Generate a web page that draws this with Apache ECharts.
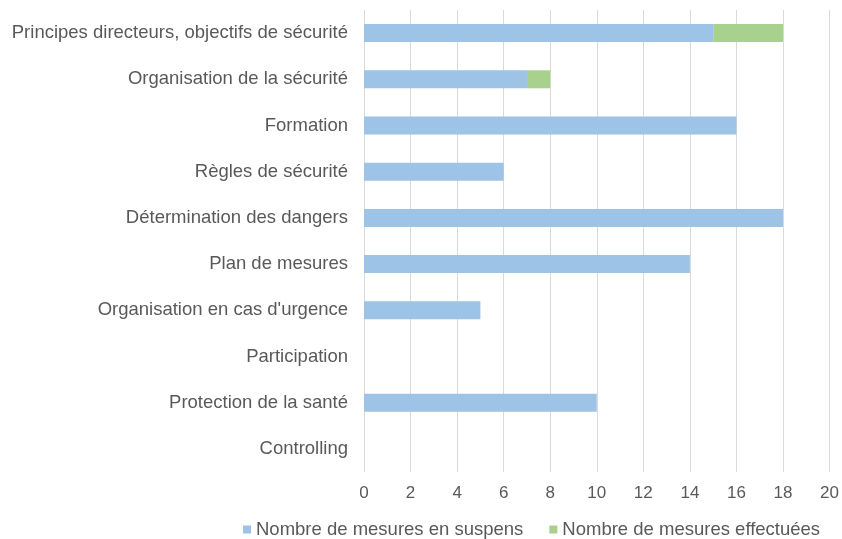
<!DOCTYPE html>
<html>
<head>
<meta charset="utf-8">
<script src="https://cdn.jsdelivr.net/npm/echarts@6/dist/echarts.min.js"></script>
<style>
  html, body { margin: 0; padding: 0; background: #fff; }
  #chart { width: 842px; height: 539px; }
</style>
</head>
<body>
<div id="chart"></div>
<script>
// catégories, du haut vers le bas
var categories = [
  'Principes directeurs, objectifs de sécurité',
  'Organisation de la sécurité',
  'Formation',
  'Règles de sécurité',
  'Détermination des dangers',
  'Plan de mesures',
  "Organisation en cas d'urgence",
  'Participation',
  'Protection de la santé',
  'Controlling'
];
var enSuspens = [15, 7, 16, 6, 18, 14, 5, 0, 10, 0];
var effectuees = [3, 1, 0, 0, 0, 0, 0, 0, 0, 0];
var seriesNames = ['Nombre de mesures en suspens', 'Nombre de mesures effectuées'];

var chart = echarts.init(document.getElementById('chart'));
var textStyle = { fontFamily: 'Liberation Sans', fontSize: 18.5, color: '#595959' };

chart.setOption({
  animation: false,
  grid: { left: 364, right: 10, top: 10, bottom: 67 },
  legend: {
    top: 515,
    left: 238,
    itemWidth: 8,
    itemHeight: 8,
    itemGap: 26,
    icon: 'rect',
    textStyle: textStyle,
    data: seriesNames
  },
  xAxis: {
    type: 'value',
    min: 0,
    max: 20,
    interval: 2,
    axisLine: { show: false },
    axisTick: { show: false },
    axisLabel: Object.assign({ margin: 13 }, textStyle, { fontSize: 17 }),
    splitLine: { lineStyle: { color: '#d9d9d9', width: 1 } }
  },
  yAxis: {
    type: 'category',
    inverse: true,
    data: categories,
    axisLine: { show: false },
    axisTick: { show: false },
    axisLabel: Object.assign({ margin: 16 }, textStyle)
  },
  series: [
    {
      name: seriesNames[0],
      type: 'bar',
      stack: 'total',
      barWidth: 18,
      itemStyle: { color: '#9dc3e6' },
      data: enSuspens
    },
    {
      name: seriesNames[1],
      type: 'bar',
      stack: 'total',
      barWidth: 18,
      itemStyle: { color: '#a9d18e' },
      data: effectuees
    }
  ]
});
</script>
</body>
</html>
